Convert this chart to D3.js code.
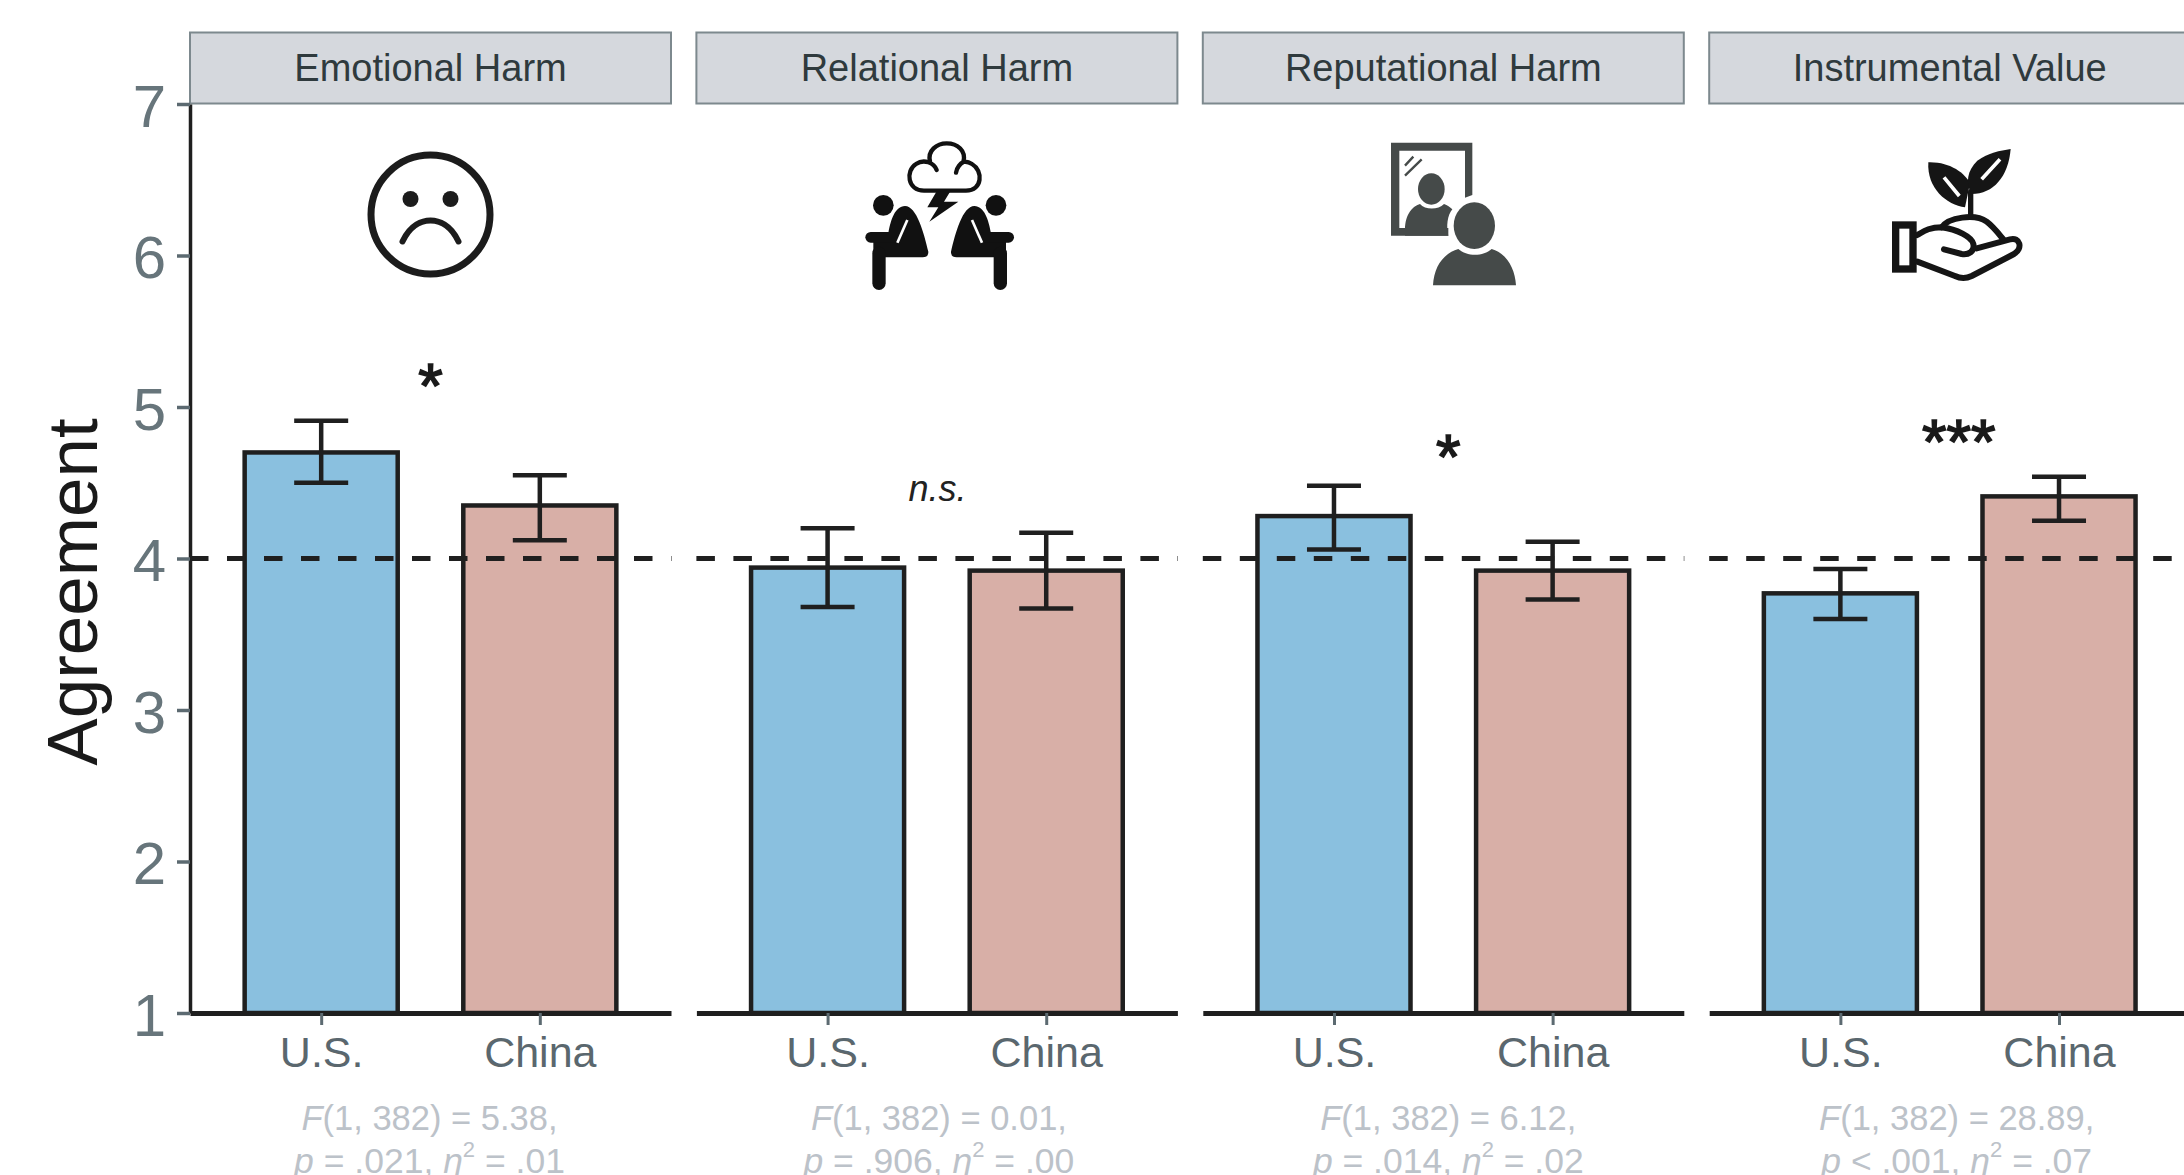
<!DOCTYPE html>
<html>
<head>
<meta charset="utf-8">
<script src="https://d3js.org/d3.v7.min.js"></script>
<style>
html, body { margin: 0; padding: 0; background: #fff; overflow: hidden; }
text { font-family: "Liberation Sans", Arial, sans-serif; }
</style>
</head>
<body>
<div id="chart-container"></div>
<script>
// Data
const panelNames = ["Emotional Harm", "Relational Harm", "Reputational Harm", "Instrumental Value"];
const groups = ["U.S.", "China"];
const usMeans = [4.70, 3.94, 4.28, 3.77];
const usLow = [4.50, 3.68, 4.06, 3.60];
const usHigh = [4.91, 4.20, 4.48, 3.93];
const chinaMeans = [4.35, 3.92, 3.92, 4.41];
const chinaLow = [4.12, 3.67, 3.73, 4.25];
const chinaHigh = [4.55, 4.17, 4.11, 4.54];
const yTicks = [1, 2, 3, 4, 5, 6, 7];
const refValue = 4;
const sigLabels = ["*", "n.s.", "*", "***"];
const statF = ["5.38", "0.01", "6.12", "28.89"];
const statP = ["= .021", "= .906", "= .014", "< .001"];
const statEta = [".01", ".00", ".02", ".07"];

// Layout
const width = 2184;
const height = 1175;
const panelLeft = 190;
const panelStep = 506.4;
const panelWidth = 481;
const plotTop = 104;
const plotBottom = 1013;
const ink = "#1f1f1f";
const tickGrey = "#5c6a71";

const svg = d3.select("#chart-container")
    .append("svg")
    .attr("width", width)
    .attr("height", height)
    .style("display", "block");

const y = d3.scaleLinear().domain([1, 7]).range([plotBottom, plotTop]);
const x = d3.scalePoint().domain(groups).range([0, panelWidth]).padding(0.6);
const barWidth = x.step() * 0.7;
const capWidth = 54;

panelNames.forEach((name, i) => {
    const cx = panelWidth / 2;
    const g = svg.append("g").attr("transform", `translate(${panelLeft + i * panelStep},0)`);

    // Strip
    g.append("rect")
        .attr("x", 0)
        .attr("y", 32.5)
        .attr("width", panelWidth)
        .attr("height", 71)
        .attr("fill", "#d5d8dd")
        .attr("stroke", "#7d898e")
        .attr("stroke-width", 2);
    g.append("text")
        .attr("x", cx)
        .attr("y", 81)
        .attr("text-anchor", "middle")
        .style("font-size", "38px")
        .attr("fill", "#2f3a3d")
        .text(name);

    const rows = [
        { group: groups[0], mean: usMeans[i], lo: usLow[i], hi: usHigh[i], fill: "#8ac0df" },
        { group: groups[1], mean: chinaMeans[i], lo: chinaLow[i], hi: chinaHigh[i], fill: "#d8afa7" }
    ];

    // Bars
    g.selectAll(".bar")
        .data(rows)
        .enter()
        .append("rect")
        .attr("class", "bar")
        .attr("x", d => x(d.group) - barWidth / 2)
        .attr("y", d => y(d.mean))
        .attr("width", barWidth)
        .attr("height", d => y(1) - y(d.mean))
        .attr("fill", d => d.fill)
        .attr("stroke", ink)
        .attr("stroke-width", 4.5);

    // Error bars
    const err = g.selectAll(".err").data(rows).enter().append("g").attr("class", "err")
        .attr("stroke", ink)
        .attr("stroke-width", 4.5);
    err.append("line")
        .attr("x1", d => x(d.group)).attr("x2", d => x(d.group))
        .attr("y1", d => y(d.lo)).attr("y2", d => y(d.hi));
    err.append("line")
        .attr("x1", d => x(d.group) - capWidth / 2).attr("x2", d => x(d.group) + capWidth / 2)
        .attr("y1", d => y(d.hi)).attr("y2", d => y(d.hi));
    err.append("line")
        .attr("x1", d => x(d.group) - capWidth / 2).attr("x2", d => x(d.group) + capWidth / 2)
        .attr("y1", d => y(d.lo)).attr("y2", d => y(d.lo));

    // Dashed reference line
    g.append("line")
        .attr("x1", 0)
        .attr("x2", panelWidth + 0.5)
        .attr("y1", y(refValue))
        .attr("y2", y(refValue))
        .attr("stroke", ink)
        .attr("stroke-width", 5)
        .attr("stroke-dasharray", "18.5 18.5");

    // Bottom axis
    const xAxis = g.append("g")
        .attr("transform", `translate(0,${plotBottom})`)
        .call(d3.axisBottom(x).tickSize(12).tickSizeOuter(0).tickPadding(11));
    xAxis.select(".domain").attr("stroke", ink).attr("stroke-width", 5);
    xAxis.selectAll(".tick line").attr("stroke", tickGrey).attr("stroke-width", 3);
    xAxis.selectAll(".tick text")
        .attr("fill", "#5a676e")
        .style("font-size", "43px")
        .style("font-family", "'Liberation Sans', Arial, sans-serif");

    // Significance mark
    const sig = sigLabels[i];
    if (sig === "n.s.") {
        g.append("text")
            .attr("x", cx + 0.5)
            .attr("y", 501)
            .attr("text-anchor", "middle")
            .style("font-size", "36px")
            .style("font-style", "italic")
            .attr("fill", "#222")
            .text(sig);
    } else {
        g.append("text")
            .attr("x", cx + [0, 0, 5, 9][i])
            .attr("y", [407, 0, 478, 463][i])
            .attr("text-anchor", "middle")
            .style("font-size", "63px")
            .attr("fill", "#1a1a1a")
            .attr("stroke", "#1a1a1a")
            .attr("stroke-width", 1.6)
            .text(sig);
    }

    // Statistics under the axis
    const statX = cx + [-1, 2, 5, 7][i];
    g.append("text")
        .attr("x", statX)
        .attr("y", 1130)
        .attr("text-anchor", "middle")
        .style("font-size", "34.5px")
        .attr("fill", "#bcc2c9")
        .call(t => {
            t.append("tspan").style("font-style", "italic").text("F");
            t.append("tspan").text(`(1, 382) = ${statF[i]},`);
        });
    g.append("text")
        .attr("x", statX)
        .attr("y", 1173)
        .attr("text-anchor", "middle")
        .style("font-size", "35.5px")
        .attr("fill", "#bcc2c9")
        .call(t => {
            t.append("tspan").style("font-style", "italic").text("p");
            t.append("tspan").text(` ${statP[i]}, `);
            t.append("tspan").style("font-style", "italic").text("η");
            t.append("tspan").attr("dy", "-0.75em").style("font-size", "22px").text("2");
            t.append("tspan").attr("dy", "0.46em").text(` = ${statEta[i]}`);
        });
});

// Left axis, first panel only
const yAxis = svg.append("g")
    .attr("transform", `translate(${panelLeft},0)`)
    .call(d3.axisLeft(y).tickValues(yTicks).tickFormat(d3.format("d")).tickSize(13).tickSizeOuter(0).tickPadding(11));
yAxis.select(".domain").attr("stroke", ink).attr("stroke-width", 3.5);
yAxis.selectAll(".tick line").attr("stroke", "#5c6a71").attr("stroke-width", 3.5);
yAxis.selectAll(".tick text")
    .attr("fill", "#67757b")
    .attr("dy", "0.37em")
    .style("font-size", "60px")
    .style("font-family", "'Liberation Sans', Arial, sans-serif");

svg.append("text")
    .attr("transform", "translate(97,592) rotate(-90)")
    .attr("text-anchor", "middle")
    .style("font-size", "71px")
    .attr("fill", "#1a1a1a")
    .text("Agreement");

// Icons, drawn in local units of a third of a pixel
const icon = (ox, oy) => svg.append("g").attr("transform", `translate(${ox},${oy}) scale(${1 / 3})`);

// Sad face
const face = svg.append("g").attr("transform", "translate(430.5,214.5)");
face.append("circle").attr("r", 59.5).attr("fill", "none").attr("stroke", "#1c1c1c").attr("stroke-width", 7);
face.selectAll(".eye").data([-20, 20]).enter().append("circle")
    .attr("class", "eye").attr("cx", d => d).attr("cy", -15.5).attr("r", 8).attr("fill", "#1c1c1c");
face.append("path")
    .attr("d", "M-28,27 C-20,10 -8,6 0,6 C8,6 20,10 28,27")
    .attr("fill", "none").attr("stroke", "#1c1c1c").attr("stroke-width", 6).attr("stroke-linecap", "round");

// Two people under a storm cloud
const storm = icon(820, 120);
storm.append("path")
    .attr("d", "M350,150 C342,128 312,116 288,132 C256,152 262,212 312,212 L438,212 C488,212 490,152 456,132 C445,125 437,124 430,126 C440,92 412,70 380,70 C350,70 322,92 330,124 M430,126 C422,130 410,142 408,158")
    .attr("fill", "none").attr("stroke", "#111").attr("stroke-width", 13).attr("stroke-linecap", "round");
storm.append("path")
    .attr("d", "M350,214 L392,212 L372,245 L415,245 L328,305 L355,262 L322,262 Z")
    .attr("fill", "#111");
[0, 1].forEach(side => {
    const p = storm.append("g").attr("transform", side ? "translate(718,0) scale(-1,1)" : null);
    p.append("circle").attr("cx", 190).attr("cy", 256).attr("r", 31).attr("fill", "#111");
    p.append("path")
        .attr("d", "M205,340 C212,300 225,258 255,258 C290,258 312,340 325,395 Q326,412 308,412 L160,412 L160,360 Z")
        .attr("fill", "#111");
    p.append("line").attr("x1", 177).attr("y1", 400).attr("x2", 177).attr("y2", 490)
        .attr("stroke", "#111").attr("stroke-width", 40).attr("stroke-linecap", "round");
    p.append("line").attr("x1", 152).attr("y1", 352).attr("x2", 225).attr("y2", 352)
        .attr("stroke", "#111").attr("stroke-width", 32).attr("stroke-linecap", "round");
    p.append("line").attr("x1", 262).attr("y1", 300).attr("x2", 232).attr("y2", 368)
        .attr("stroke", "#fff").attr("stroke-width", 8);
});

// Person looking in a mirror
const mirror = icon(1360, 120);
const mirrorInk = "#454a49";
mirror.append("path")
    .attr("d", "M93,68 L337,68 L337,225 L315,233 L315,92 L118,92 L118,324 L265,324 L265,347 L93,347 Z")
    .attr("fill", mirrorInk);
mirror.append("ellipse").attr("cx", 214).attr("cy", 207).attr("rx", 40).attr("ry", 47).attr("fill", mirrorInk);
mirror.append("path")
    .attr("d", "M135,330 C135,280 160,258 180,252 C195,270 235,270 252,252 C262,255 270,262 277,268 C262,285 258,320 265,347 L135,347 Z")
    .attr("fill", mirrorInk);
mirror.append("path")
    .attr("d", "M135,137 L160,110 M135,167 L185,118")
    .attr("stroke", mirrorInk).attr("stroke-width", 7).attr("fill", "none");
mirror.append("ellipse").attr("cx", 343).attr("cy", 317).attr("rx", 62).attr("ry", 70).attr("fill", mirrorInk);
mirror.append("path")
    .attr("d", "M219,496 C222,440 250,400 295,387 C320,410 370,410 395,387 C440,400 465,445 468,496 Z")
    .attr("fill", mirrorInk);

// Hand holding a seedling
const plant = icon(1860, 120);
const plantLine = { fill: "none", stroke: "#151515", "stroke-width": 18, "stroke-linejoin": "round", "stroke-linecap": "round" };
const styled = sel => { Object.entries(plantLine).forEach(([k, v]) => sel.attr(k, v)); return sel; };
plant.append("rect").attr("x", 107).attr("y", 315).attr("width", 52).attr("height", 132).call(styled)
    .attr("stroke-linecap", "butt").attr("stroke-linejoin", "miter").attr("stroke-width", 22);
styled(plant.append("path")).attr("d", "M172,345 C190,335 205,322 245,322 C290,328 335,350 340,372 C345,395 325,405 305,402 L252,388");
styled(plant.append("path")).attr("d", "M172,425 L285,468 Q310,480 335,468 L462,402 C490,385 480,350 450,358 L350,385");
styled(plant.append("path")).attr("d", "M245,322 C265,292 345,280 380,305 C400,320 415,340 430,358");
styled(plant.append("path")).attr("d", "M332,285 L332,215").attr("stroke-width", 16);
plant.append("path")
    .attr("d", "M205,127 C270,125 315,160 330,190 L315,262 C260,255 200,205 205,127 Z")
    .attr("fill", "#151515");
plant.append("path")
    .attr("d", "M452,87 C445,170 400,222 335,222 C315,190 322,150 352,122 C385,98 420,92 452,87 Z")
    .attr("fill", "#151515");
plant.append("path")
    .attr("d", "M252,172 L298,228 M420,118 L365,178")
    .attr("stroke", "#fff").attr("stroke-width", 11).attr("fill", "none");
</script>
</body>
</html>
